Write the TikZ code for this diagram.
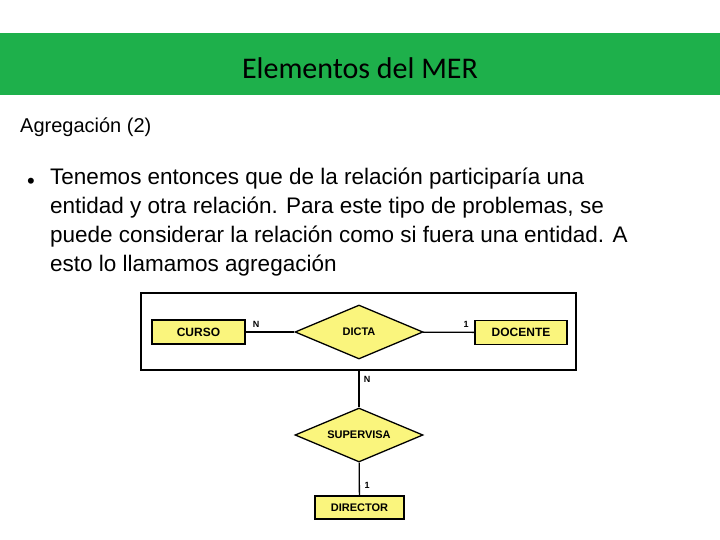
\documentclass[tikz,border=0pt]{standalone}
\usepackage{fontspec}
\setmainfont{Liberation Sans}
\newfontfamily\calib{Carlito}
\usetikzlibrary{shapes.geometric}
\definecolor{gbar}{RGB}{30,176,75}
\definecolor{ery}{RGB}{250,245,125}
\begin{document}
\begin{tikzpicture}[x=1pt,y=-1pt,
  ent/.style={draw,line width=1.3pt,fill=ery,minimum height=24pt,inner sep=0pt,font=\bfseries\fontsize{12}{13}\selectfont},
  rel/.style={draw,line width=1.3pt,fill=ery,diamond,aspect=2.4,inner sep=0pt,minimum width=128pt,minimum height=54pt,font=\bfseries\fontsize{11}{12}\selectfont},
  lnk/.style={line width=1.3pt},
  card/.style={font=\bfseries\fontsize{9}{10}\selectfont,inner sep=0pt}]
\useasboundingbox (0,0) rectangle (720,540);
\fill[gbar] (0,33) rectangle (720,95);
\node (title) at (360,68) {\calib\fontsize{30}{34}\selectfont Elementos del MER};
\node[anchor=west,inner sep=0pt] (sub) at (20,127) {\fontsize{20}{24}\selectfont Agregación (2)};
\node[anchor=west,inner sep=0pt] (bul) at (27,183) {\fontsize{22}{24}\selectfont •};
\node[anchor=north west,align=left,inner sep=0pt,font=\fontsize{22.5}{28.8}\selectfont] (txt) at (50,168) {Tenemos entonces que de la relación participaría una\\ entidad y otra relación. Para este tipo de problemas, se\\ puede considerar la relación como si fuera una entidad. A\\ esto lo llamamos agregación};
\draw[line width=1.5pt] (141,293) rectangle (576,370);
\coordinate (agbot) at (359,370);
\node[ent,minimum width=93pt] (curso) at (198.5,332) {CURSO};
\node[ent,minimum width=92pt] (docente) at (521,332.5) {DOCENTE};
\node[rel] (dicta) at (359,332) {DICTA};
\node[rel] (sup) at (359,435) {SUPERVISA};
\node[ent,minimum width=89pt,minimum height=23pt,font=\bfseries\fontsize{11}{12}\selectfont] (dir) at (359.5,507.5) {DIRECTOR};
\draw[lnk] (curso) -- (dicta);
\draw[lnk] (dicta) -- (docente);
\draw[lnk] (agbot) -- (sup);
\draw[lnk] (sup) -- (dir);
\node[card] (c1) at (256,324) {N};
\node[card] (c2) at (466,324) {1};
\node[card] (c3) at (367,379) {N};
\node[card] (c4) at (367,485) {1};
\end{tikzpicture}
\end{document}
